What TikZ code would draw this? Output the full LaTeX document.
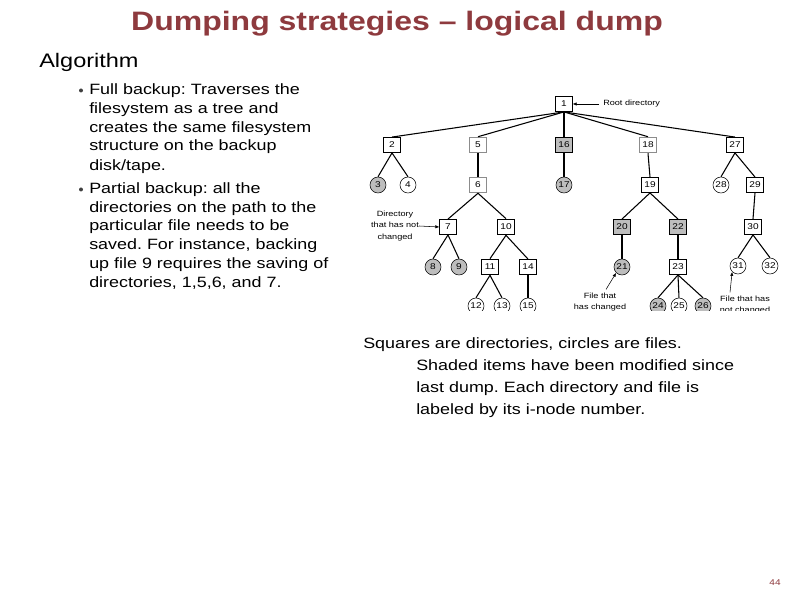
\documentclass[tikz,border=0pt]{standalone}
\usepackage{fontspec}
\setmainfont[FakeStretch=1.2]{Liberation Sans}
\usepackage{xcolor}
\usetikzlibrary{arrows.meta,positioning}
\definecolor{otitle}{HTML}{8E3A3E}
\definecolor{oshade}{HTML}{BDBDBD}
\frenchspacing

\begin{document}
\begin{tikzpicture}[x=0.75pt,y=-0.75pt,
  dir/.style={draw,fill=white,minimum width=12.5pt,minimum height=11.5pt,inner sep=0pt,font=\fontsize{6.3}{7}\selectfont},
  dirchg/.style={dir,fill=oshade},
  dirgray/.style={dir,draw=black!45,line width=0.9pt},
  dirbold/.style={dir,line width=1pt},
  file/.style={draw,circle,fill=white,minimum size=12pt,inner sep=0pt,font=\fontsize{6.3}{7}\selectfont},
  filechg/.style={file,fill=oshade},
  note/.style={font=\fontsize{5.7}{8.6}\selectfont,align=center,inner sep=0pt},
  pointer/.style={-{Latex[length=3pt,width=2.5pt]}},
  body/.style={font=\fontsize{11.2}{14.25}\selectfont,inner sep=0pt,anchor=base west},
  caption/.style={font=\fontsize{11.2}{16.5}\selectfont,inner sep=0pt,anchor=base west}]
  \useasboundingbox (0,0) rectangle (794,595);

  % title and left column
  \node[text=otitle,font=\fontsize{20}{24}\selectfont\bfseries,anchor=base] (title) at (397,31) {Dumping strategies -- logical dump};
  \node[anchor=base west,inner sep=0pt,font=\fontsize{14.7}{18}\selectfont] (algo) at (39,68) {Algorithm};
  % bullet lines: {baseline}/{text}
  \foreach \y/\t [count=\i] in {95/{Full backup: Traverses the}, 114/{filesystem as a tree and},
    133/{creates the same filesystem}, 151/{structure on the backup}, 170.5/{disk/tape.},
    194/{Partial backup: all the}, 213/{directories on the path to the},
    231/{particular file needs to be}, 250/{saved. For instance, backing},
    269/{up file 9 requires the saving of}, 288/{directories, 1,5,6, and 7.}}{
      \node[body] (line\i) at (89,\y) {\t};
  }
  \fill[black!75] ([shift={(-8,-4.5)}]line1.base west) circle (1.5pt);
  \fill[black!75] ([shift={(-8,-4.5)}]line6.base west) circle (1.5pt);

  % tree, cut off at the bottom as in the slide
  \begin{scope}
    \clip (340,88) rectangle (794,310.5);
    % nodes: {name}/{x}/{y}/{style}
    \foreach \n/\x/\y/\s in {1/564/104/dir,
      2/392/145/dir, 5/478/145/dirgray, 16/564/145/dirchg, 18/648/145/dirgray, 27/735/145/dir,
      3/378/185/filechg, 4/408/185/file, 6/478/185/dirgray, 17/564/185/filechg,
      19/650/185/dir, 28/721/185/file, 29/755/185/dir,
      7/448/227/dir, 10/506/227/dirbold, 20/622/227/dirchg, 22/678/227/dirchg, 30/753/227/dir,
      8/433/267/filechg, 9/459/267/filechg, 11/490/267/dirbold, 14/528/267/dir,
      21/622/267/filechg, 23/678/267/dir, 31/738/266/file, 32/770/266/file,
      12/476/306/file, 13/502/306/file, 15/528/306/file,
      24/658/306/filechg, 25/679/306/file, 26/703/306/filechg}{
        \node[\s] (n\n) at (\x,\y) {\n};
    }
    % edges: {parent}/{child}/{width}
    \foreach \a/\b/\w in {1/2/0.8, 1/5/0.8, 1/16/0.8, 1/18/0.8, 1/27/0.8,
      2/3/0.8, 2/4/0.8, 5/6/1.5, 16/17/0.8, 18/19/0.8, 27/28/0.8, 27/29/0.8,
      6/7/0.8, 6/10/0.8, 19/20/0.8, 19/22/0.8, 29/30/0.8,
      7/8/0.8, 7/9/0.8, 10/11/0.8, 10/14/0.8, 20/21/0.8, 22/23/1.5, 30/31/0.8, 30/32/0.8,
      11/12/0.8, 11/13/0.8, 14/15/0.8, 23/24/0.8, 23/25/0.8, 23/26/0.8}{
        \draw[line width=\w pt] (n\a.south) -- (n\b.north);
    }

    % callouts
    \node[note,anchor=west] (root) at (603,104) {Root directory};
    \draw[pointer,shorten <=3pt] (root.west) -- (n1.east);
    \node[note] (dirnote) at (395,226) {Directory\\that has not\\changed};
    \draw[pointer] (dirnote.east) -- (n7.west);
    \node[note] (chgnote) at (600,302) {File that\\has changed};
    \draw[pointer] ([shift={(6,-3)}]chgnote.north) -- (n21.south west);
    \node[note] (unchgnote) at (745,305) {File that has\\not changed};
    \draw[pointer] ([shift={(-15,-3)}]unchgnote.north) -- (n31.south west);
  \end{scope}

  % caption and page number
  \node[caption] (caption) at (363,349) {Squares are directories, circles are files.};
  \foreach \y/\t [count=\i] in {371/{Shaded items have been modified since},
    393/{last dump. Each directory and file is}, 415/{labeled by its i-node number.}}{
      \node[caption] (shaded\i) at (416,\y) {\t};
  }
  \node[text=otitle,font=\fontsize{6.3}{8}\selectfont] (page) at (775,583) {44};
\end{tikzpicture}
\end{document}
